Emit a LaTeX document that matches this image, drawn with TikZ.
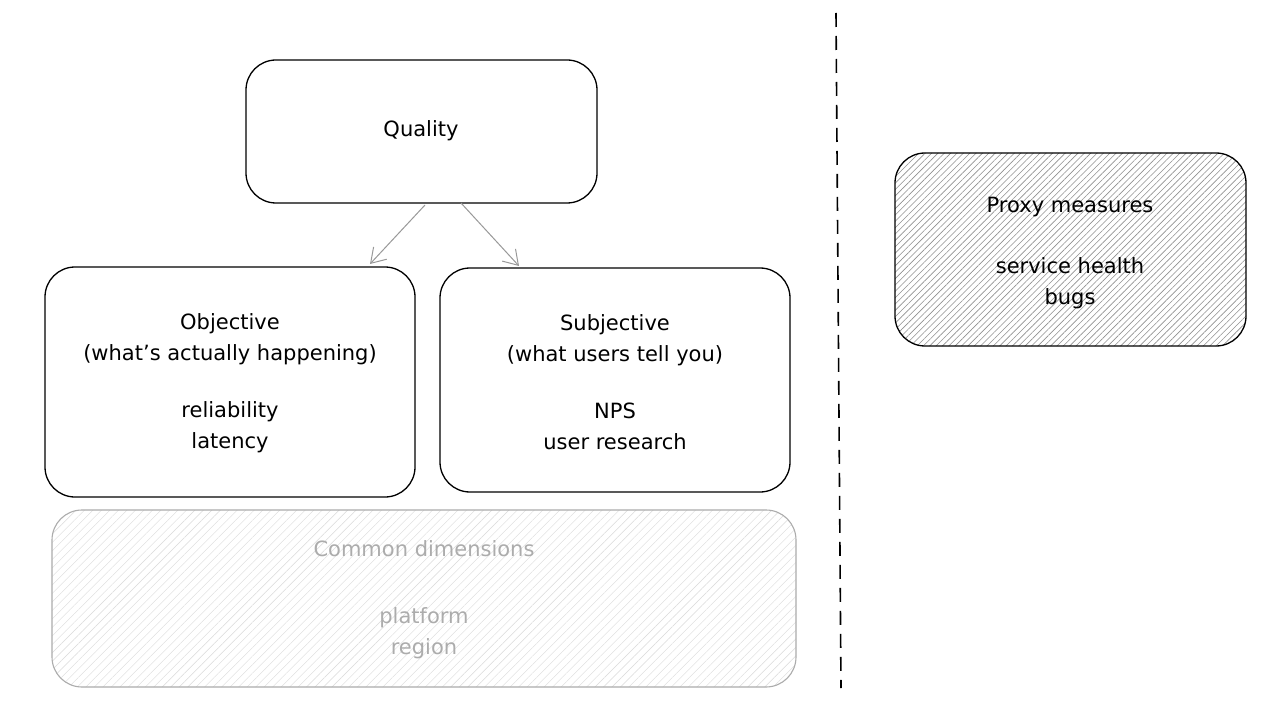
\documentclass[tikz,border=0pt]{standalone}
\usepackage{fontspec}
\setmainfont{DejaVu Sans}
\usetikzlibrary{patterns.meta,arrows.meta}
\definecolor{lightgr}{HTML}{ACACAC}
\definecolor{hatchgr}{HTML}{909090}
\tikzset{
  box/.style={draw=black, line width=1.3pt, rounded corners=30pt, fill=white},
  txt/.style={align=center, font=\fontsize{21}{31}\selectfont, text=black},
  conn/.style={draw=gray!80, line width=1pt, -{Straight Barb[length=14pt,width=18pt,line width=1pt]}}
}
\begin{document}
\begin{tikzpicture}[x=1pt,y=-1pt]
\useasboundingbox (0,0) rectangle (1267,722);
\fill[white] (0,0) rectangle (1267,722);
% boxes
\draw[box] (246,60) rectangle (597,203);
\node[txt] (quality) at (421,131) {Quality};
\draw[box] (45,267) rectangle (415,497);
\coordinate (objtop) at (370,264);
\node[txt] (objective) at (230,383) {Objective\\(what's actually happening)\\[26pt]reliability\\latency};
\draw[box] (440,268) rectangle (790,492);
\coordinate (subtop) at (519,266);
\node[txt] (subjective) at (615,382) {Subjective\\(what users tell you)\\[26pt]NPS\\user research};
\draw[box, draw=lightgr, line width=1.1pt, pattern={Lines[angle=45,distance=6pt,line width=0.4pt]}, pattern color=lightgr!45] (52,510) rectangle (796,687);
\node[txt, text=lightgr] (common) at (424,600) {Common dimensions\\[36pt]platform\\region};
\draw[box, fill=none, pattern={Lines[angle=45,distance=4.5pt,line width=0.6pt]}, pattern color=hatchgr] (895,153) rectangle (1246,346);
\node[txt] (proxy) at (1070,253) {Proxy measures\\[30pt]service health\\bugs};
% connectors
\coordinate (qa) at (425,205);
\coordinate (qb) at (461,203);
\draw[conn] (qa) -- (objtop);
\draw[conn] (qb) -- (subtop);
% divider
\coordinate (d1) at (836,13);
\coordinate (d2) at (841,688);
\draw[line width=1.6pt, dash pattern=on 14pt off 9pt] (d1) -- (d2);
\end{tikzpicture}
\end{document}
